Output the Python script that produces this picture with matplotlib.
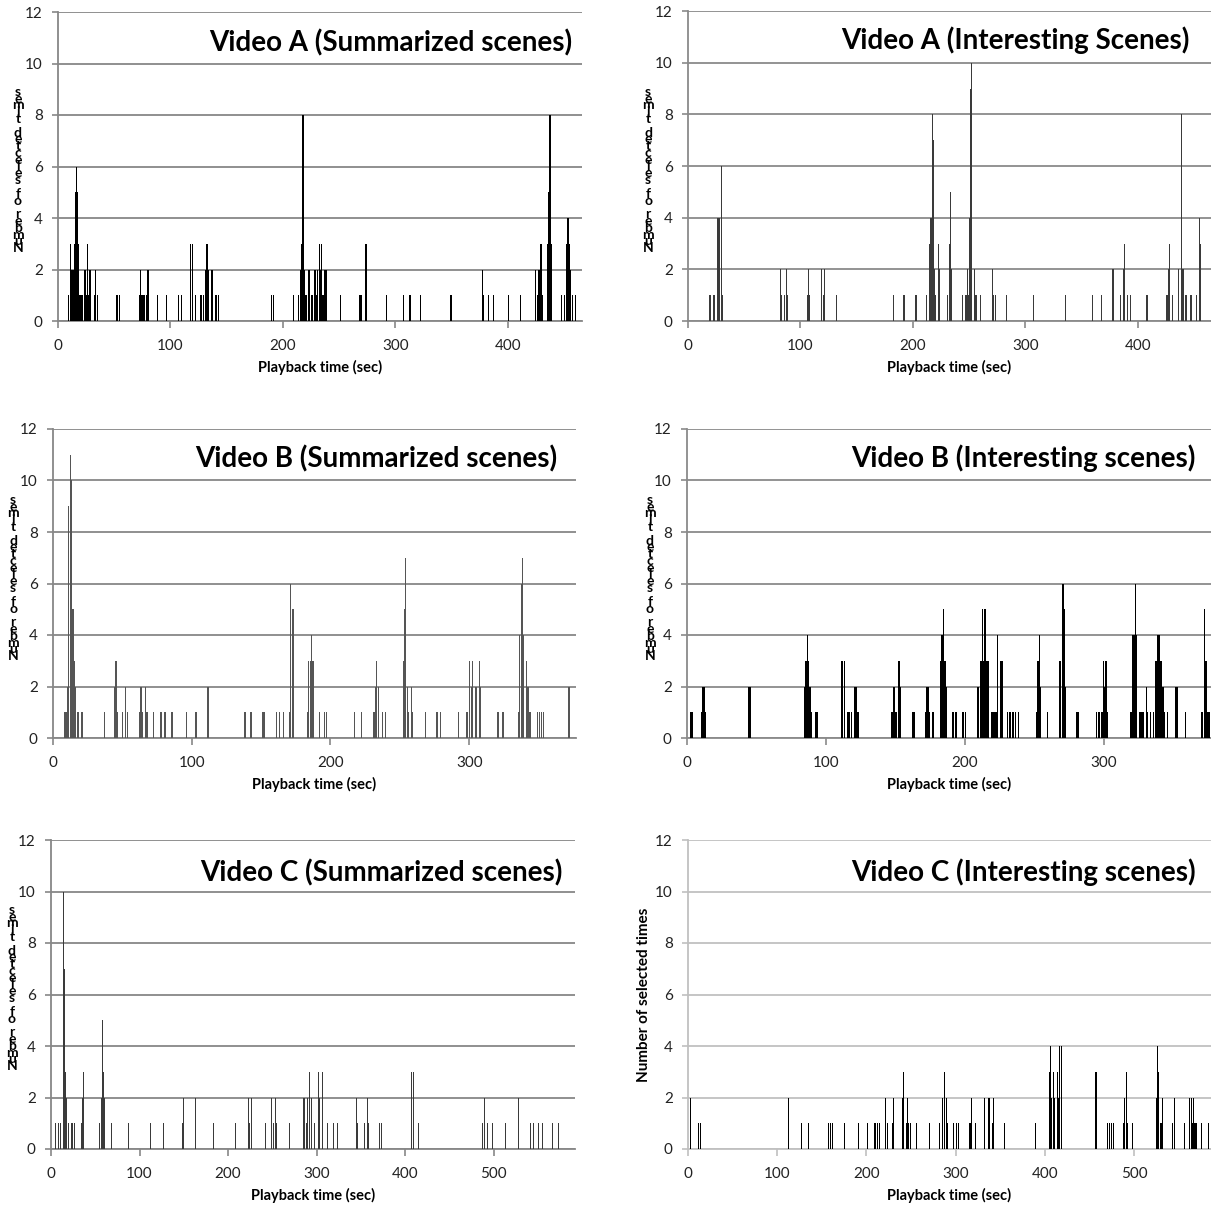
import matplotlib
matplotlib.use("Agg")
import matplotlib.pyplot as plt

plt.rcParams["font.family"] = ["Lato", "DejaVu Sans"]

W = H = 1211

# ---- data: (second, number of selections) ----
A_SUM_T = [9, 11, 12, 13, 14, 15, 16, 17, 18, 19, 20, 21, 23, 24, 25, 26, 27, 28, 32, 33, 35,
           52, 54, 72, 73, 74, 75, 76, 78, 79, 80, 88, 96, 107, 109, 117, 119, 122, 126, 127,
           129, 131, 132, 133, 136, 137, 140, 142, 189, 191, 209, 213, 215, 216, 217, 218, 219,
           220, 222, 223, 225, 226, 228, 229, 230, 232, 233, 234, 235, 236, 237, 238, 251, 268,
           269, 273, 274, 292, 307, 312, 313, 322, 349, 377, 378, 382, 387, 400, 411, 424, 426,
           427, 428, 429, 430, 435, 436, 437, 438, 447, 450, 452, 453, 454, 455, 457, 460]
A_SUM_N = [1, 3, 2, 2, 3, 5, 6, 5, 3, 1, 1, 1, 2, 2, 1, 3, 1, 2, 1, 2, 1,
           1, 1, 1, 2, 1, 1, 1, 1, 2, 2, 1, 1, 1, 1, 3, 3, 1, 1, 1,
           1, 2, 3, 2, 2, 2, 1, 1, 1, 1, 1, 1, 2, 3, 8, 8, 2,
           1, 2, 2, 1, 1, 2, 1, 2, 3, 2, 3, 1, 1, 2, 2, 1, 1,
           1, 3, 3, 1, 1, 1, 1, 1, 1, 2, 1, 1, 1, 1, 1, 2, 1,
           2, 2, 3, 1, 3, 5, 8, 3, 1, 1, 3, 4, 3, 2, 1, 1]

A_INT_T = [19, 20, 22, 23, 26, 27, 28, 29, 30, 82, 83, 85, 87, 88, 106, 107, 108, 117, 118, 120,
           121, 132, 182, 191, 192, 202, 203, 212, 213, 214, 215, 216, 217, 218, 219, 220, 222,
           223, 229, 230, 232, 233, 234, 244, 246, 247, 248, 249, 250, 251, 252, 253, 254, 255,
           256, 260, 269, 270, 271, 273, 283, 307, 335, 359, 367, 377, 378, 384, 387, 388, 389,
           390, 393, 407, 408, 413, 425, 426, 427, 428, 429, 430, 436, 437, 438, 439, 440, 442,
           443, 446, 447, 452, 454, 455]
A_INT_N = [1, 1, 1, 1, 4, 4, 4, 6, 1, 2, 1, 1, 2, 1, 1, 2, 1, 2, 2, 1,
           2, 1, 1, 1, 1, 1, 1, 1, 2, 3, 4, 4, 8, 7, 2, 1, 3,
           2, 1, 1, 3, 5, 2, 1, 1, 1, 2, 1, 4, 9, 10, 7, 2, 1,
           1, 1, 2, 2, 1, 1, 1, 1, 1, 1, 1, 2, 2, 1, 2, 3, 1,
           1, 1, 1, 1, 1, 1, 1, 2, 3, 3, 1, 2, 9, 8, 2, 2, 1,
           1, 1, 1, 1, 4, 3]

B_SUM_T = [8, 9, 10, 11, 12, 13, 14, 15, 16, 17, 18, 20, 21, 37, 44, 45, 46, 50, 52, 53, 62, 63,
           64, 66, 67, 68, 72, 77, 78, 80, 81, 85, 86, 96, 102, 103, 111, 112, 138, 142, 143,
           151, 152, 161, 163, 166, 170, 171, 172, 173, 183, 184, 185, 186, 187, 192, 195, 197,
           217, 222, 231, 232, 233, 234, 237, 239, 252, 253, 254, 255, 256, 258, 259, 268, 276,
           277, 279, 292, 298, 300, 301, 302, 304, 305, 307, 308, 320, 321, 324, 335, 336, 337,
           338, 339, 341, 342, 343, 344, 349, 350, 352, 353, 371, 372]
B_SUM_N = [1, 1, 2, 9, 11, 10, 5, 3, 2, 1, 1, 1, 1, 1, 2, 3, 1, 1, 2, 1, 1, 2,
           1, 2, 1, 1, 1, 1, 1, 1, 1, 1, 1, 1, 1, 1, 2, 2, 1, 1, 1,
           1, 1, 1, 1, 1, 1, 6, 5, 5, 1, 3, 3, 4, 3, 1, 1, 1,
           1, 1, 1, 2, 3, 2, 1, 1, 3, 5, 7, 2, 1, 2, 1, 1, 1,
           1, 1, 1, 1, 3, 2, 3, 2, 2, 3, 2, 1, 1, 1, 1, 4, 6,
           7, 4, 3, 2, 1, 1, 1, 1, 1, 1, 2, 2]

B_INT_T = [2, 3, 10, 11, 12, 13, 44, 45, 84, 85, 86, 87, 88, 89, 92, 93, 111, 113, 115, 116, 118,
           120, 121, 122, 123, 147, 148, 149, 150, 152, 153, 162, 163, 171, 172, 173, 174, 176,
           177, 182, 183, 184, 185, 186, 191, 193, 198, 200, 209, 211, 212, 213, 214, 215, 216,
           219, 220, 221, 222, 223, 225, 226, 230, 232, 234, 236, 238, 251, 252, 253, 254, 259,
           268, 270, 271, 272, 280, 281, 294, 296, 298, 299, 300, 301, 302, 319, 320, 321, 322,
           323, 325, 326, 327, 328, 330, 331, 333, 335, 337, 338, 339, 340, 341, 342, 343, 345,
           351, 352, 358, 370, 372, 373, 374, 375]
B_INT_N = [1, 1, 1, 2, 2, 1, 2, 2, 2, 3, 4, 3, 2, 1, 1, 1, 3, 3, 1, 1, 1,
           2, 2, 1, 1, 1, 2, 2, 1, 3, 2, 1, 1, 1, 2, 2, 1, 1,
           1, 3, 4, 5, 3, 2, 1, 1, 1, 1, 2, 3, 5, 3, 5, 3, 3,
           1, 1, 1, 1, 4, 3, 3, 1, 1, 1, 1, 1, 1, 3, 4, 2, 1,
           3, 6, 5, 2, 1, 1, 1, 1, 1, 3, 2, 3, 1, 1, 4, 4, 6,
           4, 1, 1, 1, 1, 2, 1, 1, 1, 3, 4, 4, 3, 3, 2, 1, 1,
           2, 2, 1, 1, 5, 3, 1, 1]

C_SUM_T = [5, 8, 10, 11, 12, 13, 14, 15, 16, 17, 19, 20, 23, 24, 26, 34, 35, 36, 37, 38, 39, 54,
           56, 57, 58, 59, 60, 68, 87, 112, 127, 133, 148, 149, 161, 163, 183, 208, 222, 223,
           224, 226, 242, 247, 248, 249, 251, 253, 254, 269, 285, 286, 288, 289, 291, 292, 294,
           297, 300, 302, 303, 306, 308, 312, 316, 319, 323, 333, 342, 345, 346, 354, 357, 358,
           369, 371, 373, 385, 387, 407, 409, 411, 413, 415, 421, 483, 487, 489, 491, 493, 498,
           513, 528, 541, 545, 550, 555, 560, 566, 568, 573]
C_SUM_N = [1, 1, 1, 4, 2, 9, 10, 7, 3, 2, 1, 1, 1, 1, 1, 1, 2, 3, 4, 3, 1, 1,
           1, 2, 5, 3, 2, 1, 1, 1, 1, 1, 1, 2, 1, 2, 1, 1, 2, 2,
           1, 2, 1, 2, 3, 2, 1, 2, 1, 1, 2, 2, 1, 2, 1, 3, 2,
           1, 3, 3, 2, 3, 2, 1, 1, 1, 1, 1, 1, 2, 1, 1, 2, 1,
           1, 1, 1, 2, 1, 3, 3, 2, 2, 1, 1, 1, 1, 2, 1, 1, 1,
           1, 2, 1, 1, 1, 1, 1, 1, 1, 1]

C_INT_T = [2, 4, 11, 14, 23, 32, 112, 127, 135, 144, 157, 159, 161, 175, 191, 201, 208, 210, 212,
           214, 221, 223, 229, 230, 240, 241, 244, 245, 246, 247, 249, 256, 270, 281, 285, 287,
           289, 290, 297, 300, 303, 315, 316, 317, 320, 322, 330, 332, 336, 337, 339, 341, 342,
           354, 389, 404, 405, 406, 407, 409, 410, 413, 414, 415, 416, 418, 456, 457, 470, 472,
           474, 476, 487, 488, 489, 491, 492, 498, 524, 526, 527, 529, 530, 531, 542, 544, 545,
           556, 561, 562, 564, 565, 566, 567, 568, 569, 575, 583]
C_INT_N = [2, 1, 1, 1, 1, 1, 2, 1, 1, 1, 1, 1, 1, 1, 1, 1, 1, 1, 1,
           1, 2, 1, 1, 2, 2, 3, 1, 2, 3, 1, 1, 1, 1, 1, 2, 3,
           2, 1, 1, 1, 1, 1, 1, 2, 1, 1, 1, 2, 2, 2, 1, 1, 2,
           1, 1, 1, 3, 4, 2, 3, 2, 5, 3, 2, 4, 4, 3, 3, 1, 1,
           1, 1, 1, 1, 2, 3, 1, 1, 2, 4, 3, 1, 1, 2, 1, 1, 2,
           1, 2, 2, 2, 1, 2, 1, 1, 1, 1, 1]

TITLES = ["Video A (Summarized scenes)", "Video A (Interesting Scenes)",
          "Video B (Summarized scenes)", "Video B (Interesting scenes)",
          "Video C (Summarized scenes)", "Video C (Interesting scenes)"]
XLABEL = "Playback time (sec)"
YLABEL = "Number of selected times"

# per panel: data, axes box in px (l, t, r, b), x max, title anchor (right, baseline),
# bar colour, grid colour, y-label anchor (x, y centre) or None for a normal label
PANELS = [
    (A_SUM_T, A_SUM_N, (58, 12, 582, 321), 466, (572, 51), "k", "#878787", (18, 170)),
    (A_INT_T, A_INT_N, (688, 11, 1211, 321), 465, (1190, 49), "#3a3a3a", "#8a8a8a", (648, 170)),
    (B_SUM_T, B_SUM_N, (53, 429, 576, 738), 377, (557, 467), "#555555", "#878787", (13, 578)),
    (B_INT_T, B_INT_N, (687, 429, 1211, 738), 377, (1196, 467), "k", "#8a8a8a", (650, 578)),
    (C_SUM_T, C_SUM_N, (51, 840, 575, 1149), 592, (563, 881), "#3a3a3a", "#878787", (12, 988)),
    (C_INT_T, C_INT_N, (688, 840, 1211, 1149), 586, (1196, 881), "k", "#c0c0c0", None),
]


def main():
    fig = plt.figure(figsize=(W / 100, H / 100), dpi=100)
    for i, (t, n, (l, tp, r, b), xmax, (tx, ty), bc, gc, lab) in enumerate(PANELS):
        ax = fig.add_axes([l / W, 1 - b / H, (r - l) / W, (b - tp) / H])
        ax.bar(t, n, width=1.0 if bc == "k" else 0.8, color=bc, linewidth=0,
               align="edge", zorder=3)
        ax.set_xlim(0, xmax)
        ax.set_ylim(0, 12)
        ax.set_yticks(range(0, 13, 2))
        ax.set_xticks(range(0, xmax, 100))
        ax.grid(axis="y", color=gc, lw=1.3, zorder=1)
        for s in ("top", "right"):
            ax.spines[s].set_visible(False)
        for s in ("left", "bottom"):
            ax.spines[s].set_color(gc)
            ax.spines[s].set_linewidth(1.3)
        ax.tick_params(axis="x", length=5, width=1.2, color=gc, pad=8, labelsize=11,
                       labelcolor="#222222")
        ax.tick_params(axis="y", length=4, width=1.2, color=gc, pad=7, labelsize=11,
                       labelcolor="#222222")
        ax.set_xlabel(XLABEL, fontsize=10.5, fontweight="bold", labelpad=5)
        fig.text(tx / W, 1 - ty / H, TITLES[i], ha="right", va="baseline",
                 fontsize=20, fontweight="bold")
        if lab is not None:
            # the original label is broken into stacked, overlapping letters
            fig.text(lab[0] / W, 1 - lab[1] / H,
                     "\n".join(reversed(YLABEL)), ha="center", va="center",
                     fontsize=10, fontweight="bold", linespacing=0.48)
        else:
            ax.set_ylabel(YLABEL, fontsize=11, fontweight="bold", labelpad=3)
    fig.savefig("out.png", dpi=100)


if __name__ == "__main__":
    main()
